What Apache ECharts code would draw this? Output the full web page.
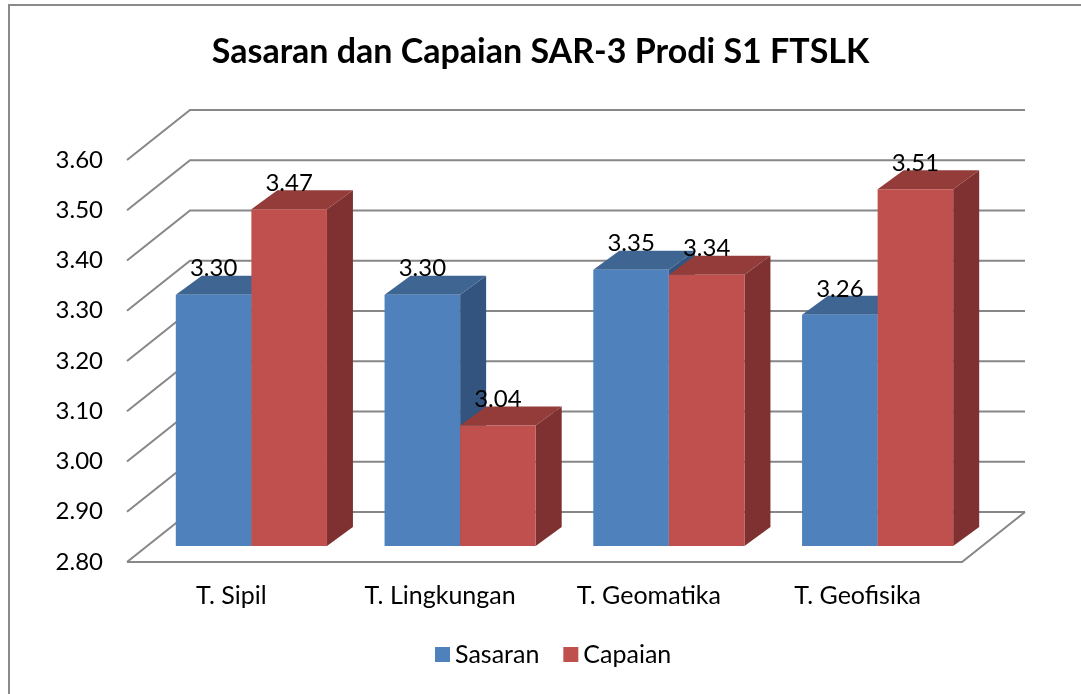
<!DOCTYPE html>
<html>
<head>
<meta charset="utf-8">
<script src="https://cdn.jsdelivr.net/npm/echarts@6/dist/echarts.min.js"></script>
<style>
  html, body { margin: 0; padding: 0; background: #fff; }
  #chart { width: 1081px; height: 694px; }
</style>
</head>
<body>
<div id="chart"></div>
<script>
// data
const categories = ['T. Sipil', 'T. Lingkungan', 'T. Geomatika', 'T. Geofisika']
const sasaran = [3.30, 3.30, 3.35, 3.26]
const capaian = [3.47, 3.04, 3.34, 3.51]
const yTicks = [2.8, 2.9, 3.0, 3.1, 3.2, 3.3, 3.4, 3.5, 3.6]

const FONT = 'Lato'
// fake 3d offsets (pixels)
const WALL_DX = 63, WALL_DY = -50
const FRONT_DX = 20, FRONT_DY = -16
const BAR_DX = 26, BAR_DY = -19

const colors = {
  Sasaran: { front: '#4f81bd', side: '#32547e', top: '#3f6593' },
  Capaian: { front: '#c0504d', side: '#7e3130', top: '#933c3a' }
}

const chart = echarts.init(document.getElementById('chart'))

function renderWall(params, api) {
  const cs = params.coordSys
  const y = api.coord([0, api.value(1)])[1]
  const x0 = cs.x, x1 = cs.x + cs.width
  const pts = [[x0, y], [x0 + WALL_DX, y + WALL_DY], [x1 + WALL_DX, y + WALL_DY]]
  const children = [{
    type: 'polyline',
    shape: { points: pts },
    style: { stroke: '#878787', lineWidth: 2, fill: null }
  }]
  if (params.dataIndex === 0) {
    children.push({
      type: 'polyline',
      shape: { points: [[x0, y], [x1, y], [x1 + WALL_DX, y + WALL_DY]] },
      style: { stroke: '#878787', lineWidth: 2, fill: null }
    })
  }
  return { type: 'group', children: children }
}

function makeBarRenderer(name, side) {
  const c = colors[name]
  return function (params, api) {
    const p = api.coord([api.value(0), api.value(1)])
    const base = api.coord([api.value(0), yTicks[0]])
    const catW = api.size([1, 0])[0]
    const w = catW * 0.362
    const left = p[0] + FRONT_DX + (side === 0 ? -w : 0)
    const right = left + w
    const top = p[1] + FRONT_DY
    const bottom = base[1] + FRONT_DY
    return {
      type: 'group',
      children: [
        {
          type: 'polygon',
          shape: { points: [[right, top], [right + BAR_DX, top + BAR_DY], [right + BAR_DX, bottom + BAR_DY], [right, bottom]] },
          style: { fill: c.side }
        },
        {
          type: 'polygon',
          shape: { points: [[left, top], [left + BAR_DX, top + BAR_DY], [right + BAR_DX, top + BAR_DY], [right, top]] },
          style: { fill: c.top }
        },
        {
          type: 'rect',
          shape: { x: left, y: top, width: w, height: bottom - top },
          style: { fill: c.front }
        },
        {
          type: 'text',
          style: {
            text: api.value(1).toFixed(2),
            x: (left + right) / 2,
            y: top - 26,
            align: 'center', verticalAlign: 'middle',
            textAlign: 'center', textVerticalAlign: 'middle',
            fontSize: 24, fontFamily: FONT, fill: '#000'
          }
        }
      ]
    }
  }
}

chart.setOption({
  animation: false,
  backgroundColor: '#fff',
  title: {
    text: 'Sasaran dan Capaian SAR-3 Prodi S1 FTSLK',
    left: 'center',
    top: 30,
    textStyle: { fontFamily: FONT, fontSize: 34, fontWeight: 'bold', color: '#000' }
  },
  graphic: [{
    type: 'rect',
    silent: true,
    shape: { x: 9, y: 5, width: 1100, height: 720 },
    style: { fill: null, stroke: '#8a8a8a', lineWidth: 2 }
  }],
  legend: {
    data: ['Sasaran', 'Capaian'],
    left: 435,
    top: 642,
    padding: 0,
    icon: 'rect',
    itemWidth: 15,
    itemHeight: 15,
    itemGap: 24,
    textStyle: { fontFamily: FONT, fontSize: 25, color: '#000' }
  },
  grid: { left: 127, top: 160, width: 835, height: 402 },
  xAxis: {
    type: 'category',
    data: categories,
    axisLine: { show: false },
    axisTick: { show: false },
    axisLabel: { fontFamily: FONT, fontSize: 25, color: '#000', margin: 21 }
  },
  yAxis: {
    type: 'value',
    min: 2.8,
    max: 3.6,
    interval: 0.1,
    axisLine: { show: false },
    axisTick: { show: false },
    splitLine: { show: false },
    axisLabel: {
      fontFamily: FONT, fontSize: 24, color: '#000', margin: 24,
      formatter: v => v.toFixed(2)
    }
  },
  series: [
    {
      name: 'walls',
      type: 'custom',
      silent: true,
      z: 1,
      renderItem: renderWall,
      data: yTicks.map(v => [0, v])
    },
    {
      name: 'Sasaran',
      type: 'custom',
      z: 2,
      itemStyle: { color: colors.Sasaran.front },
      renderItem: makeBarRenderer('Sasaran', 0),
      data: sasaran.map((v, i) => [i, v])
    },
    {
      name: 'Capaian',
      type: 'custom',
      z: 3,
      itemStyle: { color: colors.Capaian.front },
      renderItem: makeBarRenderer('Capaian', 1),
      data: capaian.map((v, i) => [i, v])
    }
  ]
})
</script>
</body>
</html>
